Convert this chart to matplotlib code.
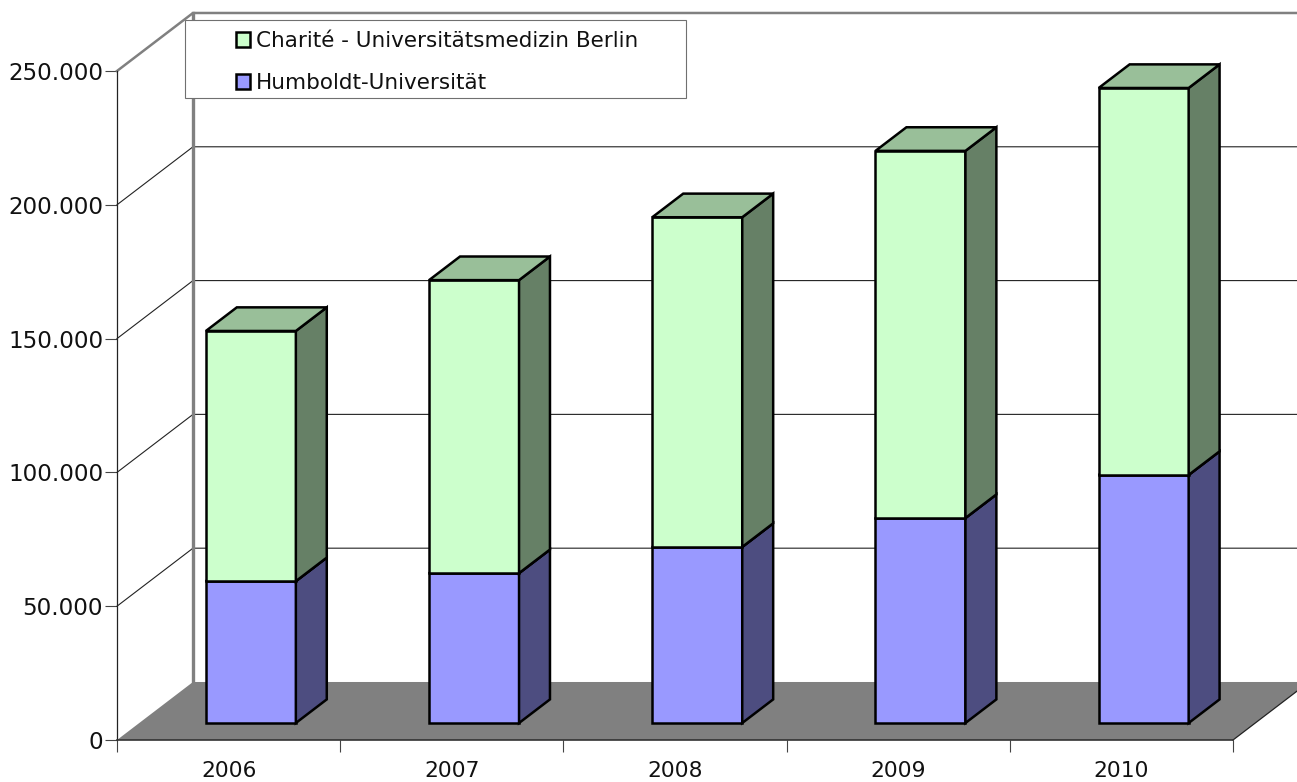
import matplotlib
matplotlib.use('Agg')
import matplotlib.pyplot as plt
from matplotlib.patches import Patch, Polygon, Rectangle

years = ['2006', '2007', '2008', '2009', '2010']
humboldt = [53000, 56000, 65800, 76600, 92700]
charite = [93500, 109500, 123200, 137200, 144600]
y_ticks = [0, 50000, 100000, 150000, 200000, 250000]
y_labels = ['0', '50.000', '100.000', '150.000', '200.000', '250.000']

# how far the back wall is shifted from the front plane, in data units
DEPTH_X = 0.3405
DEPTH_Y = 21680
BAR_WIDTH = 0.403
BAR_Z = (0.293, 0.70)


def project(x, y, z):
    """Return the 2d data position of a point at depth z (0 front, 1 back)."""
    return (x + z * DEPTH_X, y + z * DEPTH_Y)


def draw_box(ax, i, y0, y1, front, side, top):
    """Draw one bar segment as front, side and top faces."""
    x0 = i + 0.5 - BAR_WIDTH / 2
    x1 = i + 0.5 + BAR_WIDTH / 2
    z0, z1 = BAR_Z
    faces = [
        ([(x0, y0, z0), (x1, y0, z0), (x1, y1, z0), (x0, y1, z0)], front),
        ([(x1, y0, z0), (x1, y0, z1), (x1, y1, z1), (x1, y1, z0)], side),
        ([(x0, y1, z0), (x1, y1, z0), (x1, y1, z1), (x0, y1, z1)], top),
    ]
    for pts, color in faces:
        ax.add_patch(Polygon([project(*p) for p in pts], closed=True, facecolor=color,
                             edgecolor='black', linewidth=1.8, joinstyle='miter',
                             clip_on=False, zorder=5))


fig = plt.figure(figsize=(12.97, 7.82), dpi=100)
ax = fig.add_axes([117 / 1297, 42 / 782, 1116 / 1297, 669 / 782])
n = len(years)

# floor
floor = [project(0, 0, 0), project(n, 0, 0), project(n, 0, 1), project(0, 0, 1)]
ax.add_patch(Polygon(floor, closed=True, facecolor='#808080', edgecolor='none',
                     clip_on=False, zorder=1))

# grid on the back wall and the left side wall
for t in y_ticks[1:-1]:
    xs, ys = zip(project(0, t, 0), project(0, t, 1), project(n, t, 1))
    ax.plot(xs, ys, color='#222222', lw=0.8, clip_on=False, zorder=2)

# outline of the walls
top = y_ticks[-1]
xs, ys = zip(project(0, top, 0), project(0, top, 1), project(n, top, 1))
ax.plot(xs, ys, color='#808080', lw=1.8, clip_on=False, zorder=2)
xs, ys = zip(project(0, 0, 1), project(0, top, 1))
ax.plot(xs, ys, color='#808080', lw=2.4, clip_on=False, zorder=2)

# floor edges
xs, ys = zip(project(n, 0, 0), project(n, 0, 1))
ax.plot(xs, ys, color='#222222', lw=0.9, clip_on=False, zorder=2)

for i in range(n):
    draw_box(ax, i, 0, humboldt[i], '#9999FF', '#4D4D80', '#7373BF')
    draw_box(ax, i, humboldt[i], humboldt[i] + charite[i], '#CCFFCC', '#668066', '#99BF99')

ax.set_xlim(0, n)
ax.set_ylim(0, 250000)
ax.patch.set_visible(False)
for side in ['top', 'right']:
    ax.spines[side].set_visible(False)
ax.spines['left'].set_linewidth(0.9)
ax.spines['left'].set_color('#222222')
ax.spines['bottom'].set_linewidth(1.2)
ax.spines['bottom'].set_color('#333333')

ax.set_yticks(y_ticks, y_labels)
ax.set_xticks(range(n + 1), [''] * (n + 1))
ax.set_xticks([i + 0.5 for i in range(n)], years, minor=True)
ax.tick_params(axis='y', length=8.5, width=0.8, color='#444444', pad=1.5, labelsize=16.6,
               labelcolor='#111111')
ax.tick_params(axis='x', which='major', length=8.5, width=0.8, color='#444444')
ax.tick_params(axis='x', which='minor', length=0, pad=15, labelsize=15.7, labelcolor='#111111')

# legend box
fig.add_artist(Rectangle((185 / 1297, 1 - 98 / 782), 501 / 1297, 78 / 782,
                         transform=fig.transFigure, facecolor='white', edgecolor='#707070',
                         linewidth=0.8, zorder=1))
handles = [Patch(facecolor='#CCFFCC', edgecolor='black', linewidth=1.8),
           Patch(facecolor='#9999FF', edgecolor='black', linewidth=1.8)]
fig.legend(handles, ['Charité - Universitätsmedizin Berlin', 'Humboldt-Universität'],
           loc='upper left', bbox_to_anchor=(236 / 1297, 1 - 31 / 782), frameon=False,
           fontsize=15.5, borderpad=0, borderaxespad=0, handlelength=0.65, handleheight=0.65,
           handletextpad=0.27, labelspacing=1.02, labelcolor='#111111')

fig.savefig('out.png', dpi=100)
